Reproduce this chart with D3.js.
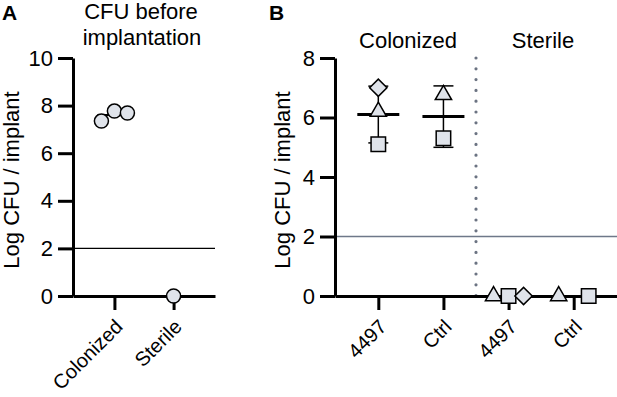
<!DOCTYPE html>
<html>
<head>
<meta charset="utf-8">
<script src="https://cdn.jsdelivr.net/npm/d3@7"></script>
<style>
  body { margin: 0; background: #fff; }
  text { font-family: "Liberation Sans", Arial, sans-serif; }
</style>
</head>
<body>
<div id="chart"></div>
<script>
// panel A data
var groupsA = ["Colonized", "Sterile"];
var cfuA = [[7.35, 7.77, 7.69], [0]];
var ticksA = [0, 2, 4, 6, 8, 10];

// panel B data
var groupsB = ["c4497", "cCtrl", "s4497", "sCtrl"];
var labelsB = ["4497", "Ctrl", "4497", "Ctrl"];
var shapesB = [
    ["triangle", "square", "diamond"],
    ["triangle", "square"],
    ["triangle", "square", "diamond"],
    ["triangle", "square"]
];
var cfuB = [
    [6.2, 5.1, 7.0],
    [6.76, 5.3],
    [0, 0, 0],
    [0, 0]
];
var ticksB = [0, 2, 4, 6, 8];
var limitLine = 2;

var width = 617, height = 397;
var fill = "#dfe3ea";

var svg = d3.select("#chart").append("svg")
    .attr("width", width)
    .attr("height", height);

var symbols = {
    triangle: d3.symbol().type(d3.symbolTriangle).size(115),
    square: d3.symbol().type(d3.symbolSquare).size(210),
    diamond: d3.symbol().type(d3.symbolSquare).size(150),
    circle: d3.symbol().type(d3.symbolCircle).size(155)
};

function sd(v) { return v.length > 1 ? d3.deviation(v) : 0; }

function yAxis(g, y, ticks) {
    g.call(d3.axisLeft(y).tickValues(ticks).tickSize(15).tickSizeOuter(0).tickPadding(5));
    g.select(".domain").attr("stroke-width", 3);
    g.selectAll(".tick line").attr("stroke-width", 3);
    g.selectAll(".tick text").style("font-size", "22px").attr("fill", "#000");
}

function xAxis(g, x, labels) {
    g.call(d3.axisBottom(x).tickSize(14).tickSizeOuter(0).tickFormat(function(d, i) { return labels[i]; }));
    g.select(".domain").attr("stroke-width", 3);
    g.selectAll(".tick line").attr("stroke-width", 3);
    g.selectAll(".tick text")
        .style("font-size", "20px")
        .attr("fill", "#000")
        .attr("text-anchor", "end")
        .attr("transform", "translate(9,32) rotate(-45)")
        .attr("dy", 0)
        .attr("y", 0)
        .attr("x", 0);
}

// ---------- panel A ----------
var yA = d3.scaleLinear().domain([0, 10]).range([296, 58]);
var xA = d3.scalePoint().domain(groupsA).range([73, 215]).padding(0.7);
var gA = svg.append("g");

gA.append("line")
    .attr("x1", 73).attr("x2", 215)
    .attr("y1", yA(limitLine)).attr("y2", yA(limitLine))
    .attr("stroke", "#000").attr("stroke-width", 1.3);

gA.append("g").attr("transform", "translate(0," + yA(0) + ")").call(xAxis, xA, groupsA);
gA.append("g").attr("transform", "translate(73,0)").call(yAxis, yA, ticksA);

var offsA = [-13, 0, 13];
groupsA.forEach(function(grp, gi) {
    var vals = cfuA[gi], cx = xA(grp), m = d3.mean(vals);
    if (vals.length > 1) {
        gA.append("line").attr("x1", cx - 17).attr("x2", cx + 17)
            .attr("y1", yA(m)).attr("y2", yA(m)).attr("stroke", "#000").attr("stroke-width", 2);
    }
    vals.forEach(function(v, i) {
        var dx = vals.length > 1 ? offsA[i] : 0;
        gA.append("path").attr("d", symbols.circle())
            .attr("transform", "translate(" + (cx + dx) + "," + yA(v) + ")")
            .attr("fill", fill).attr("stroke", "#000").attr("stroke-width", 1.5);
    });
});

gA.append("text").attr("x", 2).attr("y", 20).style("font-size", "21px").attr("font-weight", "bold").text("A");
gA.append("text").attr("x", 141).attr("y", 19).style("font-size", "22px").attr("text-anchor", "middle").text("CFU before");
gA.append("text").attr("x", 142).attr("y", 45).style("font-size", "22px").attr("text-anchor", "middle").text("implantation");
gA.append("text").attr("transform", "translate(19,180) rotate(-90)")
    .style("font-size", "22px").attr("text-anchor", "middle").text("Log CFU / implant");

// ---------- panel B ----------
var yB = d3.scaleLinear().domain([0, 8]).range([296, 58]);
var xB = d3.scalePoint().domain(groupsB).range([335, 617]).padding(0.665);
var gB = svg.append("g");

gB.append("line")
    .attr("x1", 335).attr("x2", 617)
    .attr("y1", yB(limitLine)).attr("y2", yB(limitLine))
    .attr("stroke", "#6e7889").attr("stroke-width", 1.3);

var divX = (xB("cCtrl") + xB("s4497")) / 2;
gB.append("line")
    .attr("x1", divX).attr("x2", divX)
    .attr("y1", yB(8)).attr("y2", yB(0))
    .attr("stroke", "#6b7382").attr("stroke-width", 3.2)
    .attr("stroke-linecap", "round").attr("stroke-dasharray", "0 10.8");

gB.append("g").attr("transform", "translate(0," + yB(0) + ")").call(xAxis, xB, labelsB);
gB.append("g").attr("transform", "translate(335,0)").call(yAxis, yB, ticksB);

var offsB = { 3: [-15, 0, 15], 2: [-15, 15] };
groupsB.forEach(function(grp, gi) {
    var vals = cfuB[gi], cx = xB(grp), m = d3.mean(vals), s = sd(vals);
    var sterile = m === 0;
    if (!sterile) {
        gB.append("line").attr("x1", cx).attr("x2", cx)
            .attr("y1", yB(m - s)).attr("y2", yB(m + s)).attr("stroke", "#000").attr("stroke-width", 1.5);
        [m - s, m + s].forEach(function(e) {
            gB.append("line").attr("x1", cx - 10).attr("x2", cx + 10)
                .attr("y1", yB(e)).attr("y2", yB(e)).attr("stroke", "#000").attr("stroke-width", 1.5);
        });
        gB.append("line").attr("x1", cx - 21).attr("x2", cx + 21)
            .attr("y1", yB(m)).attr("y2", yB(m)).attr("stroke", "#000").attr("stroke-width", 3);
    }
    vals.forEach(function(v, i) {
        var dx = sterile ? offsB[vals.length][i] : 0;
        var shp = shapesB[gi][i];
        var rot = shp === "diamond" ? " rotate(45)" : "";
        gB.append("path").attr("d", symbols[shp]())
            .attr("transform", "translate(" + (cx + dx) + "," + yB(v) + ")" + rot)
            .attr("fill", fill).attr("stroke", "#000").attr("stroke-width", 1.5)
            .attr("stroke-linejoin", "miter");
    });
});

gB.append("text").attr("x", 269).attr("y", 20).style("font-size", "21px").attr("font-weight", "bold").text("B");
gB.append("text").attr("x", 408).attr("y", 48).style("font-size", "22px").attr("text-anchor", "middle").text("Colonized");
gB.append("text").attr("x", 543).attr("y", 48).style("font-size", "22px").attr("text-anchor", "middle").text("Sterile");
gB.append("text").attr("transform", "translate(290,180) rotate(-90)")
    .style("font-size", "22px").attr("text-anchor", "middle").text("Log CFU / implant");
</script>
</body>
</html>
